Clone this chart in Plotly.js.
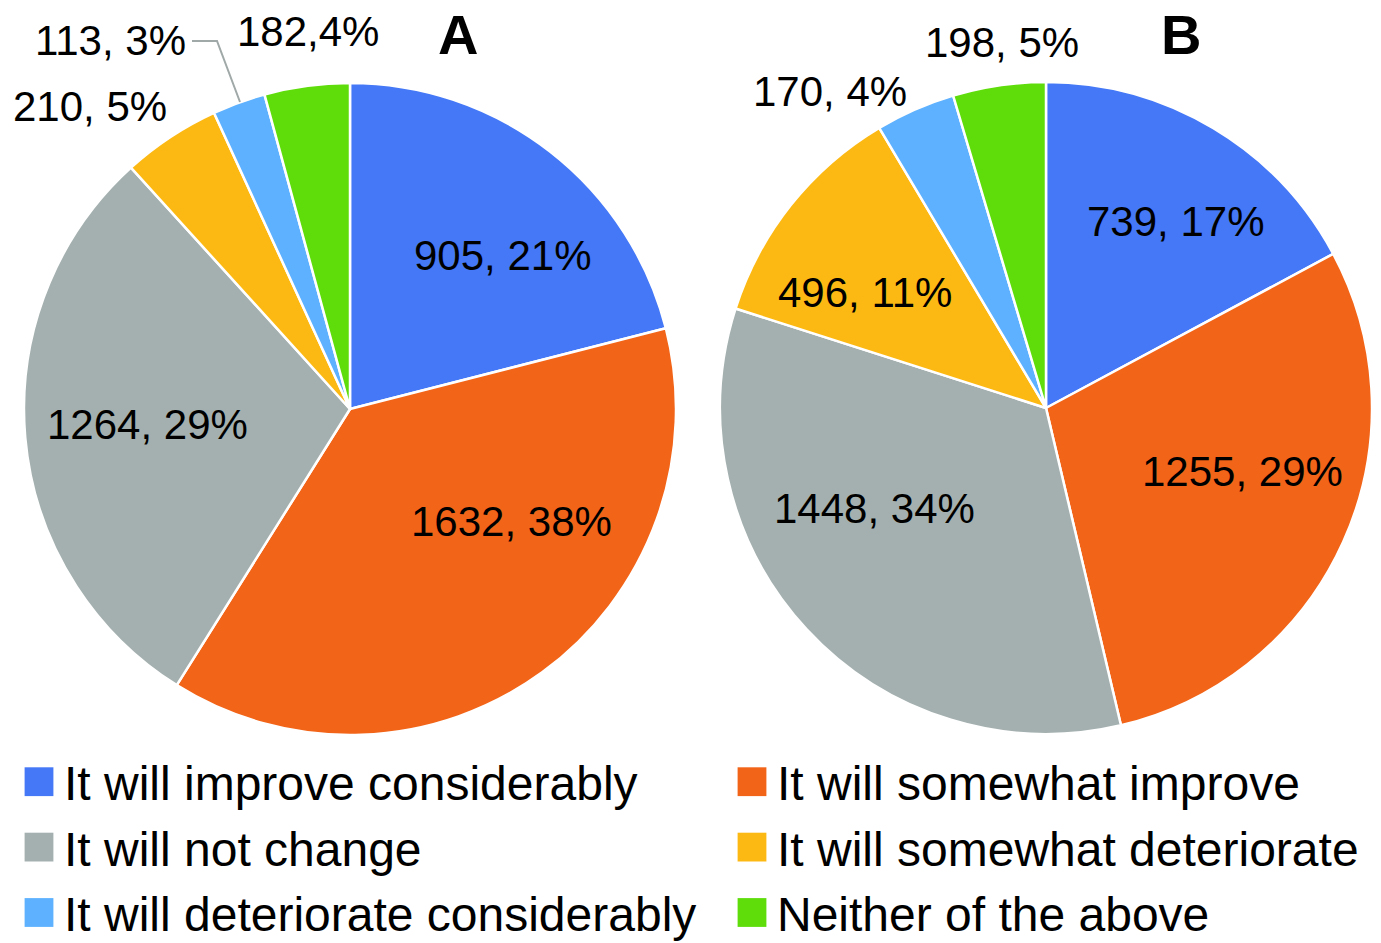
<!DOCTYPE html>
<html>
<head>
<meta charset="utf-8">
<script src="https://cdn.plot.ly/plotly-3.0.1.min.js"></script>
<style>
html,body{margin:0;padding:0;background:#fff;}
#chart{width:1381px;height:943px;}
</style>
</head>
<body>
<div id="chart"></div>
<script>
// ---- data ----
const categories = [
  "It will improve considerably",
  "It will somewhat improve",
  "It will not change",
  "It will somewhat deteriorate",
  "It will deteriorate considerably",
  "Neither of the above"
];
const valuesA = [905, 1632, 1264, 210, 113, 182];
const percentA = [21, 38, 29, 5, 3, 4];
const sepA = [", ", ", ", ", ", ", ", ", ", ","];
const valuesB = [739, 1255, 1448, 496, 170, 198];
const percentB = [17, 29, 34, 11, 4, 5];
const sepB = [", ", ", ", ", ", ", ", ", ", ", "];
const panelTitles = ["A", "B"];
const colors = ["#4478F6", "#F26418", "#A4B0AF", "#FDB913", "#5DB1FF", "#5EDD0B"];

// ---- layout helpers (pixel -> paper) ----
const W = 1381, H = 943;
const px = x => x / W;
const py = y => 1 - y / H;
const FONT = "Liberation Sans, Arial, sans-serif";

const labelPosA = [[502, 256], [511, 521], [147, 425], [90, 106], [110, 40], [308, 32]];
const labelPosB = [[1175, 221], [1242, 471], [874, 508], [865, 292], [830, 91], [1002, 42]];

function labelText(v, s, p) { return v.map((val, i) => `${val}${s[i]}${p[i]}%`); }
const textA = labelText(valuesA, sepA, percentA);
const textB = labelText(valuesB, sepB, percentB);

const pieCommon = {
  type: "pie",
  labels: categories,
  sort: false,
  direction: "clockwise",
  rotation: 0,
  textinfo: "none",
  hoverinfo: "label+value+percent",
  showlegend: false,
  marker: { colors: colors, line: { color: "#ffffff", width: 2.5 } }
};

const traces = [
  Object.assign({}, pieCommon, {
    values: valuesA,
    domain: { x: [px(24), px(676)], y: [py(735), py(83)] }
  }),
  Object.assign({}, pieCommon, {
    values: valuesB,
    domain: { x: [px(720), px(1372)], y: [py(734), py(82)] }
  })
];

// legend entries (two columns)
categories.forEach((c, i) => {
  traces.push({
    type: "scatter",
    mode: "markers",
    x: [null], y: [null],
    name: c,
    marker: { symbol: "square", size: 16, color: colors[i], line: { width: 0 } },
    legend: i % 2 === 0 ? "legend" : "legend2",
    showlegend: true,
    hoverinfo: "skip"
  });
});

const annotations = [];
textA.forEach((t, i) => annotations.push({
  text: t, xref: "paper", yref: "paper", x: px(labelPosA[i][0]), y: py(labelPosA[i][1]),
  xanchor: "center", yanchor: "middle", showarrow: false,
  font: { family: FONT, size: 42, color: "#000" }
}));
textB.forEach((t, i) => annotations.push({
  text: t, xref: "paper", yref: "paper", x: px(labelPosB[i][0]), y: py(labelPosB[i][1]),
  xanchor: "center", yanchor: "middle", showarrow: false,
  font: { family: FONT, size: 42, color: "#000" }
}));
[[458, 35], [1181, 35]].forEach((p, i) => annotations.push({
  text: "<b>" + panelTitles[i] + "</b>", xref: "paper", yref: "paper", x: px(p[0]), y: py(p[1]),
  xanchor: "center", yanchor: "middle", showarrow: false,
  font: { family: FONT, size: 56, color: "#000" }
}));

const leader = `M ${px(192)} ${py(41)} L ${px(217)} ${py(41)} L ${px(240)} ${py(102)}`;

const legendCommon = {
  orientation: "v",
  xanchor: "left", yanchor: "top",
  font: { family: FONT, size: 48, color: "#000" },
  itemwidth: 40,
  bgcolor: "rgba(0,0,0,0)",
  borderwidth: 0,
  itemclick: false, itemdoubleclick: false
};

const layout = {
  width: W, height: H,
  margin: { l: 0, r: 0, t: 0, b: 0, autoexpand: false },
  paper_bgcolor: "#ffffff",
  plot_bgcolor: "rgba(0,0,0,0)",
  font: { family: FONT, color: "#000" },
  xaxis: { visible: false, fixedrange: true },
  yaxis: { visible: false, fixedrange: true },
  legend: Object.assign({}, legendCommon, { x: px(14), y: py(744) }),
  legend2: Object.assign({}, legendCommon, { x: px(727), y: py(744) }),
  annotations: annotations,
  shapes: [{
    type: "path", xref: "paper", yref: "paper", path: leader,
    line: { color: "#A0A8A8", width: 2 }
  }]
};

Plotly.newPlot("chart", traces, layout, { displayModeBar: false, staticPlot: true }).then(() => {
  document.querySelectorAll("g.legendpoints path.scatterpts").forEach(p => {
    const t = p.getAttribute("transform") || "";
    p.setAttribute("transform", t + " scale(1.8)");
  });
});
</script>
</body>
</html>
